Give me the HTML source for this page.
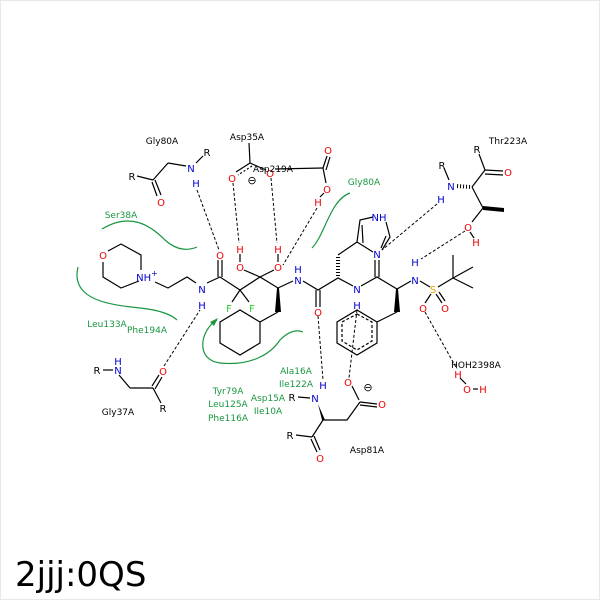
<!DOCTYPE html>
<html><head><style>body{margin:0;background:#fff}svg{display:block}</style></head>
<body>
<svg width="600" height="600" viewBox="0 0 600 600" xmlns="http://www.w3.org/2000/svg" font-family="DejaVu Sans, Liberation Sans, sans-serif" font-size="10">
<rect x="0.5" y="0.5" width="599" height="599" fill="#fff" stroke="#e8e8e8"/>
<g stroke="#000" stroke-width="1.2" fill="none">
<polyline points="108,251 121,244 141,255 141,270"/>
<polyline points="103,262 103,277 121,288 139,281"/>
<polyline points="155,282 168,288 187,277 196,283"/>
<polyline points="207,283 220,277 240,290 260,277 278,288 293,281"/>
<line x1="218" y1="277" x2="218" y2="260"/><line x1="222" y1="277" x2="222" y2="260"/>
<line x1="240" y1="290" x2="232" y2="302"/><line x1="240" y1="290" x2="249" y2="302"/>
<line x1="260" y1="277" x2="244" y2="270"/><line x1="260" y1="277" x2="274" y2="270"/>
<line x1="240" y1="262" x2="240" y2="254"/><line x1="278" y1="262" x2="278" y2="254"/>
<polyline points="278,312 260,322 260,343 240,355 220,343 220,322 240,310 260,322"/>
<polyline points="303,281 318,290 338,278 353,286"/>
<line x1="316" y1="290" x2="316" y2="307"/><line x1="320" y1="290" x2="320" y2="307"/>
<polyline points="338,255 357,242 360,220 373,217"/>
<polyline points="386,222 390,237 382,250"/><line x1="357" y1="242" x2="373" y2="252"/>
<line x1="363" y1="243" x2="362" y2="225"/><line x1="386" y1="236" x2="381" y2="248"/>
<polyline points="361,286 377,277 397,289 411,281"/>
<line x1="375" y1="277" x2="375" y2="260"/><line x1="379" y1="277" x2="379" y2="260"/>
<polyline points="397,312 377,322 377,343 357,355 337,343 337,322 357,310 377,322"/>
<polygon points="357,314 372,322 372,341 357,350 342,341 342,322" stroke-dasharray="3,2"/>
<line x1="420" y1="281" x2="430" y2="287"/>
<line x1="438" y1="287" x2="453" y2="278"/>
<line x1="431" y1="294" x2="425" y2="303"/>
<line x1="436" y1="294" x2="442" y2="303"/><line x1="439" y1="292" x2="445" y2="301"/>
<polyline points="453,255 453,278 473,267"/><line x1="453" y1="278" x2="473" y2="288"/>
<line x1="479" y1="154" x2="485" y2="170"/><line x1="485" y1="170" x2="503" y2="171"/><line x1="485" y1="174" x2="503" y2="175"/>
<line x1="485" y1="170" x2="472" y2="187"/><line x1="472" y1="187" x2="483" y2="208"/><line x1="483" y1="208" x2="472" y2="222"/>
<line x1="470" y1="232" x2="474" y2="238"/>
<line x1="444" y1="168" x2="449" y2="180"/>
<line x1="473" y1="389" x2="478" y2="389"/><line x1="466" y1="384" x2="460" y2="378"/>
<line x1="298" y1="397" x2="310" y2="398"/><polyline points="323,420 347,420 360,402"/>
<line x1="359" y1="400" x2="352" y2="386"/><line x1="360" y1="402" x2="377" y2="404"/><line x1="360" y1="405" x2="377" y2="407"/>
<line x1="323" y1="420" x2="312" y2="437"/><line x1="312" y1="437" x2="296" y2="435"/>
<line x1="311" y1="439" x2="317" y2="452"/><line x1="314" y1="436" x2="320" y2="450"/>
<line x1="275" y1="169" x2="323" y2="168"/><line x1="323" y1="168" x2="326" y2="183"/>
<line x1="323" y1="168" x2="327" y2="156"/><line x1="326" y1="170" x2="330" y2="157"/>
<line x1="324" y1="193" x2="320" y2="197"/>
<line x1="249" y1="143" x2="250" y2="163"/><line x1="250" y1="163" x2="236" y2="172"/><line x1="252" y1="166" x2="238" y2="175" stroke-dasharray="2,2"/><line x1="250" y1="163" x2="266" y2="170"/>
<line x1="203" y1="156" x2="196" y2="163"/><line x1="186" y1="166" x2="168" y2="163"/><line x1="168" y1="163" x2="153" y2="180"/><line x1="153" y1="180" x2="137" y2="176"/>
<line x1="152" y1="182" x2="157" y2="196"/><line x1="155" y1="180" x2="161" y2="195"/>
<line x1="103" y1="370" x2="113" y2="370"/><line x1="119" y1="375" x2="130" y2="388"/><line x1="130" y1="388" x2="153" y2="388"/>
<line x1="152" y1="386" x2="159" y2="375"/><line x1="155" y1="389" x2="162" y2="377"/><line x1="153" y1="388" x2="161" y2="403"/>
</g>
<g fill="#000">
<polygon points="277,288 279,288 281,312 275,312"/>
<polygon points="396,289 398,289 400,312 394,312"/>
<polygon points="322,420 325,420 318,404"/>
<polygon points="483,206 483,210 504,212 504,208"/>
</g>
<g stroke="#000" stroke-width="1">
<line x1="338" y1="276" x2="338" y2="257" stroke-dasharray="1,2" stroke-width="4"/>
<line x1="470" y1="187" x2="457" y2="186" stroke-dasharray="1,2" stroke-width="4"/>
</g>
<g stroke="#000" stroke-width="1" stroke-dasharray="3,2" fill="none">
<line x1="197" y1="190" x2="219" y2="250"/>
<line x1="233" y1="183" x2="239" y2="243"/>
<line x1="271" y1="178" x2="277" y2="243"/>
<line x1="317" y1="208" x2="283" y2="265"/>
<line x1="164" y1="366" x2="200" y2="310"/>
<line x1="318" y1="316" x2="323" y2="380"/>
<line x1="357" y1="310" x2="349" y2="378"/>
<line x1="437" y1="204" x2="382" y2="250"/>
<line x1="465" y1="231" x2="421" y2="259"/>
<line x1="425" y1="312" x2="457" y2="369"/>
</g>
<g stroke="#1a9641" stroke-width="1.2" fill="none">
<path d="M102,229 C130,212 150,225 165,240 C178,252 190,250 197,247"/>
<path d="M78,267 C70,300 110,305 140,308 C160,310 172,315 177,320"/>
<path d="M312,248 C325,235 330,200 350,193"/>
<path d="M217,320 C200,330 195,360 220,363 C250,366 270,355 280,340 C290,330 298,330 303,332"/>
</g>
<polygon points="218,318 210,322 214,326" fill="#1a9641"/>
<g text-anchor="middle">
<g fill="#e00">
<text x="103" y="259">O</text><text x="220" y="259">O</text><text x="240" y="271">O</text><text x="240" y="253">H</text>
<text x="278" y="271">O</text><text x="278" y="253">H</text><text x="318" y="316">O</text>
<text x="423" y="312">O</text><text x="445" y="312">O</text>
<text x="508" y="176">O</text><text x="468" y="231">O</text><text x="476" y="246">H</text>
<text x="458" y="378">H</text><text x="467" y="393">O</text><text x="483" y="393">H</text>
<text x="348" y="386">O</text><text x="382" y="408">O</text><text x="320" y="462">O</text>
<text x="328" y="154">O</text><text x="327" y="193">O</text><text x="318" y="206">H</text>
<text x="232" y="182">O</text><text x="270" y="177">O</text>
<text x="161" y="206">O</text><text x="163" y="375">O</text>
</g>
<g fill="#00c">
<text x="147" y="281">NH<tspan font-size="8" dy="-5">+</tspan></text>
<text x="202" y="293">N</text><text x="202" y="309">H</text>
<text x="298" y="284">N</text><text x="298" y="273">H</text>
<text x="357" y="293">N</text><text x="357" y="309">H</text>
<text x="379" y="221">NH</text><text x="377" y="258">N</text>
<text x="415" y="284">N</text><text x="415" y="266">H</text>
<text x="451" y="190">N</text><text x="441" y="203">H</text>
<text x="315" y="402">N</text><text x="323" y="389">H</text>
<text x="191" y="172">N</text><text x="196" y="187">H</text>
<text x="118" y="374">N</text><text x="118" y="365">H</text>
</g>
<g fill="#3c3"><text x="229" y="312">F</text><text x="252" y="312">F</text></g>
<text x="433" y="293" fill="#e8a000">S</text>
<g fill="#000">
<text x="477" y="153">R</text><text x="442" y="169">R</text><text x="292" y="401">R</text><text x="290" y="439">R</text>
<text x="207" y="156">R</text><text x="132" y="180">R</text><text x="97" y="374">R</text><text x="163" y="412">R</text>
<text x="252" y="184" font-size="11">⊖</text><text x="368" y="391" font-size="11">⊖</text>
</g>
</g>
<g fill="#000" font-size="9" text-anchor="middle">
<text x="162" y="144">Gly80A</text><text x="247" y="140">Asp35A</text><text x="273" y="172">Asp219A</text>
<text x="508" y="144">Thr223A</text><text x="476" y="368">HOH2398A</text><text x="367" y="453">Asp81A</text>
<text x="118" y="415">Gly37A</text>
</g>
<g fill="#1a9641" font-size="9" text-anchor="middle">
<text x="121" y="218">Ser38A</text><text x="364" y="185">Gly80A</text>
<text x="107" y="327">Leu133A</text><text x="147" y="333">Phe194A</text>
<text x="228" y="394">Tyr79A</text><text x="228" y="407">Leu125A</text><text x="228" y="421">Phe116A</text>
<text x="296" y="374">Ala16A</text><text x="296" y="387">Ile122A</text>
<text x="268" y="401">Asp15A</text><text x="268" y="414">Ile10A</text>
</g>
<text x="15" y="586" font-size="34" fill="#000">2jjj:0QS</text>
</svg>
</body></html>
